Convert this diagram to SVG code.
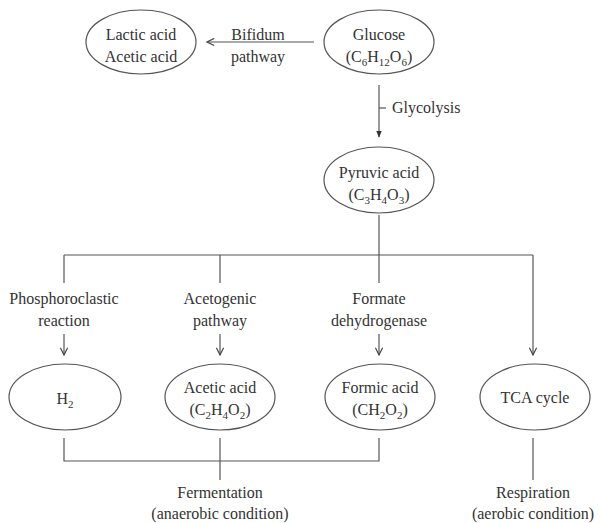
<svg xmlns="http://www.w3.org/2000/svg" width="602" height="523" viewBox="0 0 602 523">
<defs>
<style>
text{font-family:"Liberation Serif","Times New Roman",serif;font-size:16px;fill:#333;text-anchor:middle}
.sub{font-size:11px}
ellipse{fill:#fff;stroke:#555;stroke-width:1.2}
.ln{stroke:#555;stroke-width:1.2;fill:none}
</style>
<marker id="open" viewBox="0 0 10 10" refX="9" refY="5" markerWidth="9" markerHeight="9" markerUnits="userSpaceOnUse" orient="auto">
<path d="M1,1 L9,5 L1,9" fill="none" stroke="#444" stroke-width="1.3"/>
</marker>
<marker id="fill" viewBox="0 0 10 10" refX="9" refY="5" markerWidth="7" markerHeight="7" markerUnits="userSpaceOnUse" orient="auto">
<path d="M0,1 L10,5 L0,9 Z" fill="#333"/>
</marker>
</defs>
<g id="connectors">
<line class="ln" x1="314" y1="42" x2="207" y2="42" marker-end="url(#open)"/>
<line class="ln" x1="379" y1="85" x2="379" y2="137" marker-end="url(#fill)"/>
<line class="ln" x1="379" y1="108" x2="386" y2="108"/>
<line class="ln" x1="379" y1="215" x2="379" y2="255"/>
<line class="ln" x1="64" y1="255" x2="533" y2="255"/>
<line class="ln" x1="64" y1="255" x2="64" y2="283"/>
<line class="ln" x1="220" y1="255" x2="220" y2="283"/>
<line class="ln" x1="379" y1="255" x2="379" y2="283"/>
<line class="ln" x1="533" y1="255" x2="533" y2="355" marker-end="url(#open)"/>
<line class="ln" x1="64" y1="334" x2="64" y2="355" marker-end="url(#open)"/>
<line class="ln" x1="220" y1="334" x2="220" y2="355" marker-end="url(#open)"/>
<line class="ln" x1="379" y1="334" x2="379" y2="355" marker-end="url(#open)"/>
<polyline class="ln" points="64,438 64,461 379,461 379,438"/>
<line class="ln" x1="220" y1="438" x2="220" y2="480"/>
<line class="ln" x1="533" y1="438" x2="533" y2="480"/>
<text x="258" y="40">Bifidum</text>
<text x="258" y="62">pathway</text>
<text x="392" y="113" style="text-anchor:start">Glycolysis</text>
<text x="64" y="304">Phosphoroclastic</text>
<text x="64" y="326">reaction</text>
<text x="220" y="304">Acetogenic</text>
<text x="220" y="326">pathway</text>
<text x="379" y="304">Formate</text>
<text x="379" y="326">dehydrogenase</text>
<text x="220" y="498">Fermentation</text>
<text x="220" y="519">(anaerobic condition)</text>
<text x="533" y="498">Respiration</text>
<text x="533" y="519">(aerobic condition)</text>
</g>
<g id="lactic">
<ellipse cx="141" cy="42" rx="55" ry="32"/>
<text x="141" y="40">Lactic acid</text>
<text x="141" y="62">Acetic acid</text>
</g>
<g id="glucose">
<ellipse cx="379" cy="42" rx="55" ry="32"/>
<text x="379" y="40">Glucose</text>
<text x="379" y="62">(C<tspan class="sub" dy="4">6</tspan><tspan dy="-4">H</tspan><tspan class="sub" dy="4">12</tspan><tspan dy="-4">O</tspan><tspan class="sub" dy="4">6</tspan><tspan dy="-4">)</tspan></text>
</g>
<g id="pyruvic">
<ellipse cx="379" cy="180" rx="55" ry="33"/>
<text x="379" y="178">Pyruvic acid</text>
<text x="379" y="200">(C<tspan class="sub" dy="4">3</tspan><tspan dy="-4">H</tspan><tspan class="sub" dy="4">4</tspan><tspan dy="-4">O</tspan><tspan class="sub" dy="4">3</tspan><tspan dy="-4">)</tspan></text>
</g>
<g id="h2">
<ellipse cx="65" cy="397" rx="56" ry="33"/>
<text x="65" y="404">H<tspan class="sub" dy="4">2</tspan></text>
</g>
<g id="acetic">
<ellipse cx="220" cy="397" rx="55" ry="33"/>
<text x="220" y="393">Acetic acid</text>
<text x="220" y="415">(C<tspan class="sub" dy="4">2</tspan><tspan dy="-4">H</tspan><tspan class="sub" dy="4">4</tspan><tspan dy="-4">O</tspan><tspan class="sub" dy="4">2</tspan><tspan dy="-4">)</tspan></text>
</g>
<g id="formic">
<ellipse cx="380" cy="397" rx="55" ry="33"/>
<text x="380" y="393">Formic acid</text>
<text x="380" y="415">(CH<tspan class="sub" dy="4">2</tspan><tspan dy="-4">O</tspan><tspan class="sub" dy="4">2</tspan><tspan dy="-4">)</tspan></text>
</g>
<g id="tca">
<ellipse cx="535" cy="397" rx="55" ry="33"/>
<text x="535" y="403">TCA cycle</text>
</g>
</svg>
